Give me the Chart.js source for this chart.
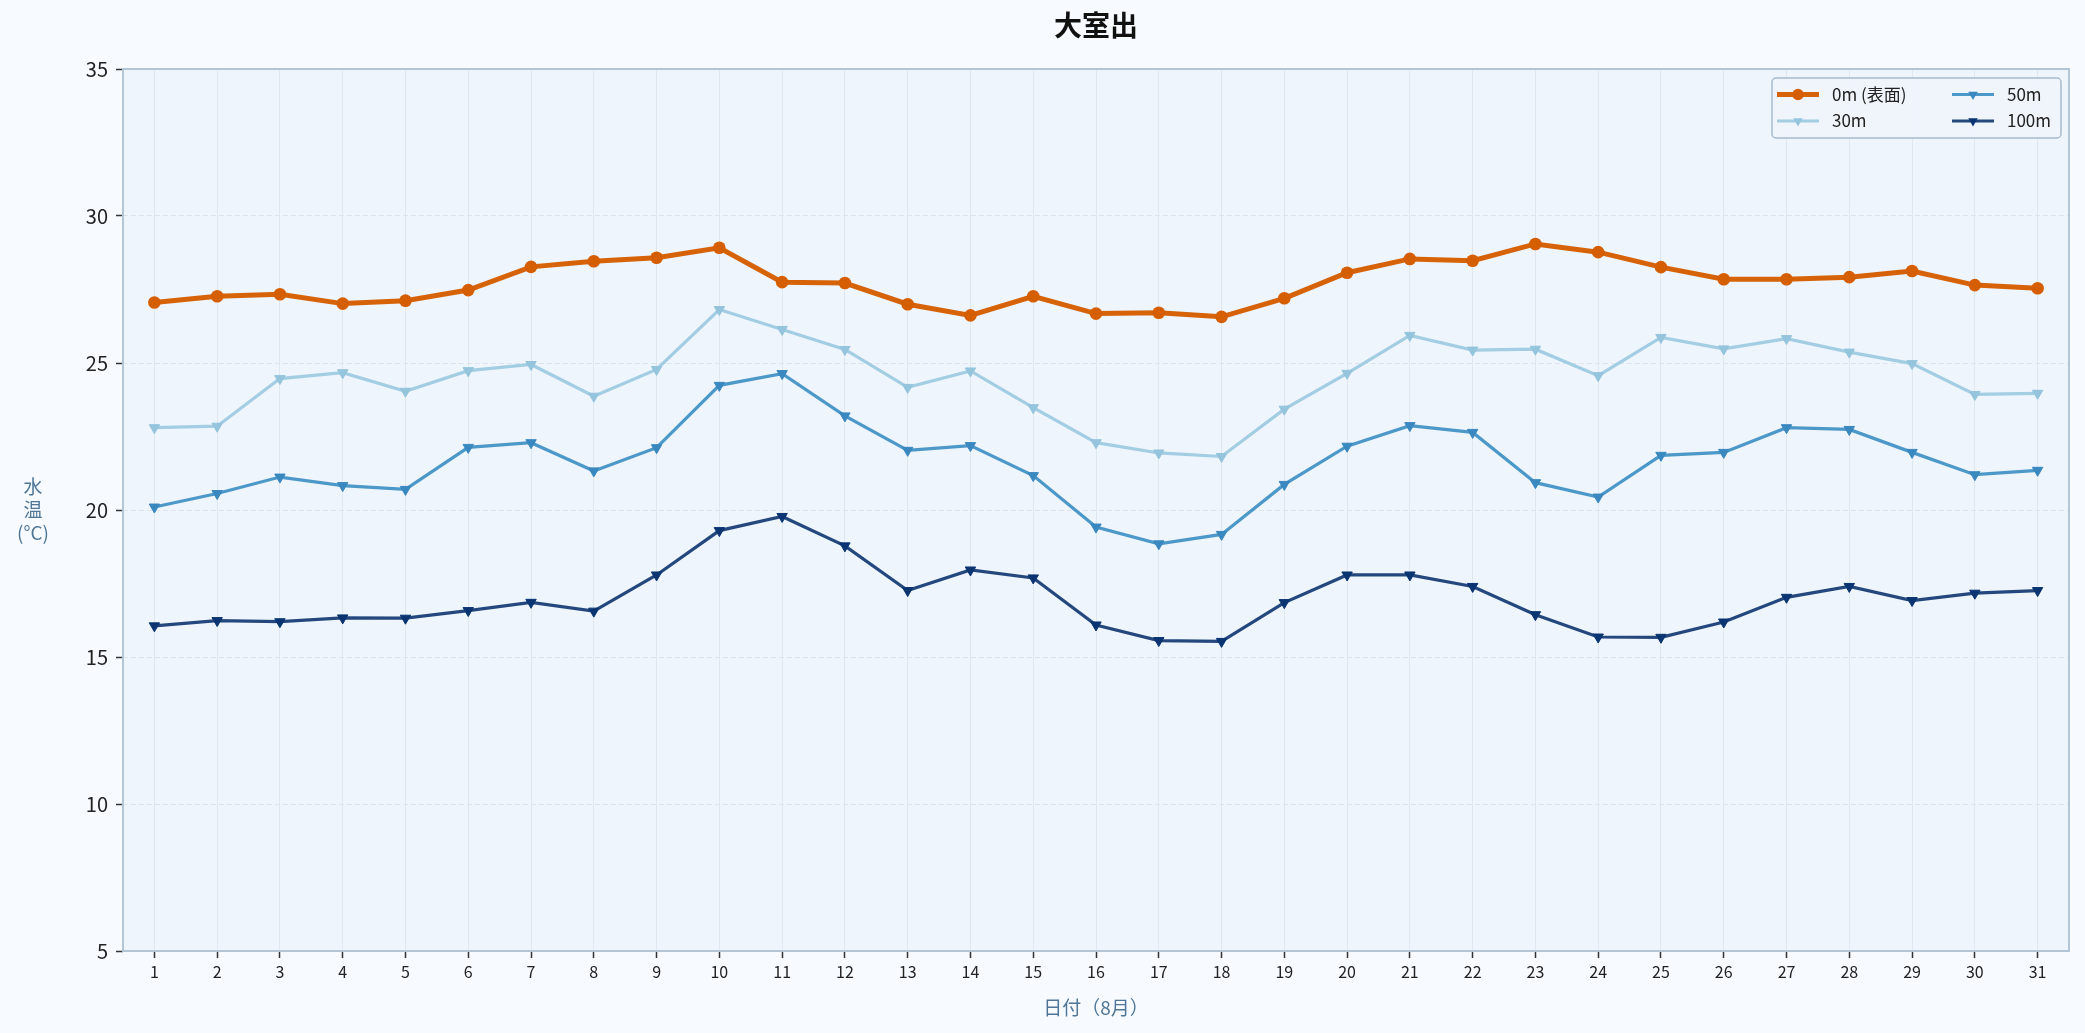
<!DOCTYPE html>
<html lang="ja">
<head>
<meta charset="UTF-8">
<title>大室出</title>
<script src="https://cdn.jsdelivr.net/npm/chart.js@4.4.1/dist/chart.umd.min.js"></script>
<style>
  html, body { margin: 0; padding: 0; background: #f7fbff; }
  #contenedor { width: 2085px; height: 1033px; position: relative; }
</style>
</head>
<body>
<div id="contenedor"><canvas id="graficaTemp"></canvas></div>
<script>
// Datos (agosto, dias 1-31)
const dias = ['1', '2', '3', '4', '5', '6', '7', '8', '9', '10', '11', '12', '13', '14', '15', '16',
  '17', '18', '19', '20', '21', '22', '23', '24', '25', '26', '27', '28', '29', '30', '31'];

const temp0m = [27.06, 27.27, 27.34, 27.02, 27.12, 27.48, 28.27, 28.46, 28.58, 28.92, 27.75, 27.72,
  27.00, 26.62, 27.27, 26.68, 26.71, 26.57, 27.20, 28.07, 28.54, 28.48, 29.05, 28.77, 28.26, 27.85,
  27.85, 27.92, 28.13, 27.65, 27.54];

const temp30m = [22.80, 22.85, 24.47, 24.67, 24.04, 24.74, 24.95, 23.87, 24.78, 26.82, 26.14, 25.46,
  24.17, 24.73, 23.48, 22.29, 21.94, 21.82, 23.43, 24.65, 25.94, 25.44, 25.47, 24.57, 25.87, 25.48,
  25.83, 25.37, 24.98, 23.93, 23.97];

const temp50m = [20.10, 20.56, 21.12, 20.83, 20.70, 22.13, 22.29, 21.33, 22.12, 24.24, 24.64, 23.20,
  22.03, 22.19, 21.17, 19.42, 18.85, 19.17, 20.87, 22.17, 22.87, 22.64, 20.93, 20.44, 21.86, 21.96,
  22.80, 22.74, 21.96, 21.20, 21.35];

const temp100m = [16.06, 16.24, 16.20, 16.33, 16.32, 16.58, 16.86, 16.56, 17.79, 19.30, 19.78, 18.78,
  17.26, 17.96, 17.69, 16.09, 15.56, 15.53, 16.85, 17.79, 17.79, 17.40, 16.44, 15.68, 15.67, 16.19,
  17.03, 17.40, 16.92, 17.17, 17.26];

const ticksY = [5, 10, 15, 20, 25, 30, 35];
const tituloEjeY = ['水', '温', '(°C)'];

const fuente = '"Noto Sans CJK JP", "Noto Sans", sans-serif';
Chart.defaults.font.family = fuente;

// Fondo del area de trazado y marco completo
const marcoPlot = {
  id: 'marcoPlot',
  beforeDraw(chart) {
    const { ctx, chartArea: a } = chart;
    ctx.save();
    ctx.fillStyle = '#eff5fc';
    ctx.fillRect(a.left, a.top, a.right - a.left, a.bottom - a.top);
    ctx.restore();
  },
  beforeDatasetsDraw(chart) {
    const { ctx, chartArea: a } = chart;
    ctx.save();
    ctx.strokeStyle = '#b3c5d6';
    ctx.lineWidth = 2;
    ctx.strokeRect(a.left, a.top, a.right - a.left, a.bottom - a.top);
    ctx.restore();
  }
};

// Titulo del eje Y en horizontal, una linea por caracter
const tituloY = {
  id: 'tituloY',
  afterDraw(chart) {
    const { ctx, chartArea: a } = chart;
    const cy = (a.top + a.bottom) / 2;
    ctx.save();
    ctx.fillStyle = '#4f7697';
    ctx.font = '19px ' + fuente;
    ctx.textAlign = 'center';
    ctx.textBaseline = 'middle';
    tituloEjeY.forEach((t, i) => ctx.fillText(t, 33, cy + (i - 1) * 23));
    ctx.restore();
  }
};

function dibujarMarcador(ctx, ds, x, y) {
  if (Chart.helpers && Chart.helpers.drawPoint) {
    Chart.helpers.drawPoint(ctx, {
      pointStyle: ds.pointStyle,
      rotation: ds.pointRotation || 0,
      radius: ds.pointRadius - 0.5,
      borderWidth: 0
    }, x, y);
  } else {
    ctx.beginPath();
    ctx.arc(x, y, ds.pointRadius, 0, Math.PI * 2);
    ctx.fill();
  }
}

// Leyenda en dos columnas (orden por columnas)
const leyenda = {
  id: 'leyenda',
  afterDraw(chart) {
    const { ctx, chartArea: a } = chart;
    const x0 = a.right - 297;
    const y0 = a.top + 9;
    ctx.save();
    ctx.beginPath();
    ctx.roundRect(x0, y0, 289, 60, 4);
    ctx.fillStyle = 'rgba(239, 245, 252, 0.9)';
    ctx.fill();
    ctx.strokeStyle = '#a7bbcd';
    ctx.lineWidth = 1.5;
    ctx.stroke();

    const pos = [[x0 + 5, y0 + 16.5], [x0 + 5, y0 + 43], [x0 + 180, y0 + 16.5], [x0 + 180, y0 + 43]];
    chart.data.datasets.forEach((ds, i) => {
      const [lx, ly] = pos[i];
      ctx.strokeStyle = ds.borderColor;
      ctx.lineWidth = ds.borderWidth;
      ctx.beginPath();
      ctx.moveTo(lx, ly);
      ctx.lineTo(lx + 42, ly);
      ctx.stroke();
      ctx.fillStyle = ds.pointBackgroundColor;
      ctx.strokeStyle = ds.pointBackgroundColor;
      dibujarMarcador(ctx, ds, lx + 21, ly);
      ctx.fillStyle = '#222';
      ctx.font = '17px ' + fuente;
      ctx.textAlign = 'left';
      ctx.textBaseline = 'middle';
      ctx.fillText(ds.label, lx + 55, ly);
    });
    ctx.restore();
  }
};

const ctx = document.getElementById('graficaTemp').getContext('2d');
window.graficaTempInstance = new Chart(ctx, {
  type: 'line',
  data: {
    labels: dias,
    datasets: [
      {
        label: '0m (表面)',
        data: temp0m,
        borderColor: 'rgba(213, 94, 0, 0.97)',
        borderWidth: 5,
        pointStyle: 'circle',
        pointRadius: 6.3,
        pointBackgroundColor: '#d55e00',
        pointBorderColor: '#d55e00',
        pointBorderWidth: 0,
        order: 0
      },
      {
        label: '30m',
        data: temp30m,
        borderColor: 'rgba(158, 202, 225, 0.95)',
        borderWidth: 3.2,
        pointStyle: 'triangle',
        pointRotation: 180,
        pointRadius: 6,
        pointBackgroundColor: '#95c4dd',
        pointBorderColor: '#95c4dd',
        pointBorderWidth: 1,
        order: 3
      },
      {
        label: '50m',
        data: temp50m,
        borderColor: 'rgba(66, 146, 198, 0.95)',
        borderWidth: 3.2,
        pointStyle: 'triangle',
        pointRotation: 180,
        pointRadius: 6,
        pointBackgroundColor: '#3a88c0',
        pointBorderColor: '#3a88c0',
        pointBorderWidth: 1,
        order: 2
      },
      {
        label: '100m',
        data: temp100m,
        borderColor: 'rgba(8, 48, 107, 0.88)',
        borderWidth: 3.2,
        pointStyle: 'triangle',
        pointRotation: 180,
        pointRadius: 6,
        pointBackgroundColor: '#0a3572',
        pointBorderColor: '#0a3572',
        pointBorderWidth: 1,
        order: 1
      }
    ]
  },
  options: {
    responsive: true,
    maintainAspectRatio: false,
    animation: false,
    events: [],
    layout: { padding: { left: 0, right: 16, top: 0, bottom: 0 } },
    plugins: {
      title: {
        display: true,
        text: '大室出',
        fullSize: false,
        color: '#111',
        font: { size: 28, weight: 'bold' },
        padding: { top: 9, bottom: 26.4 }
      },
      legend: { display: false },
      tooltip: { enabled: false }
    },
    scales: {
      x: {
        type: 'category',
        offset: true,
        grid: { color: '#dfe7f0', lineWidth: 1, tickColor: '#333', tickLength: 7, tickWidth: 1.5 },
        border: { display: false },
        ticks: { color: '#222', font: { size: 16 }, padding: 4, maxRotation: 0, autoSkip: false },
        title: {
          display: true,
          text: '日付（8月）',
          color: '#4f7697',
          font: { size: 19 },
          padding: { top: 4, bottom: 14 }
        },
        afterFit(scale) { scale.height = 82; }
      },
      y: {
        min: 5,
        max: 35,
        afterBuildTicks(scale) { scale.ticks = ticksY.map(v => ({ value: v })); },
        grid: { color: '#dce5ef', lineWidth: 1, tickColor: '#333', tickLength: 7, tickWidth: 1.5 },
        border: { display: false, dash: [5, 3] },
        ticks: { color: '#222', font: { size: 20 }, padding: 8 },
        afterFit(scale) { scale.width = 123; }
      }
    }
  },
  plugins: [marcoPlot, tituloY, leyenda]
});
</script>
</body>
</html>
